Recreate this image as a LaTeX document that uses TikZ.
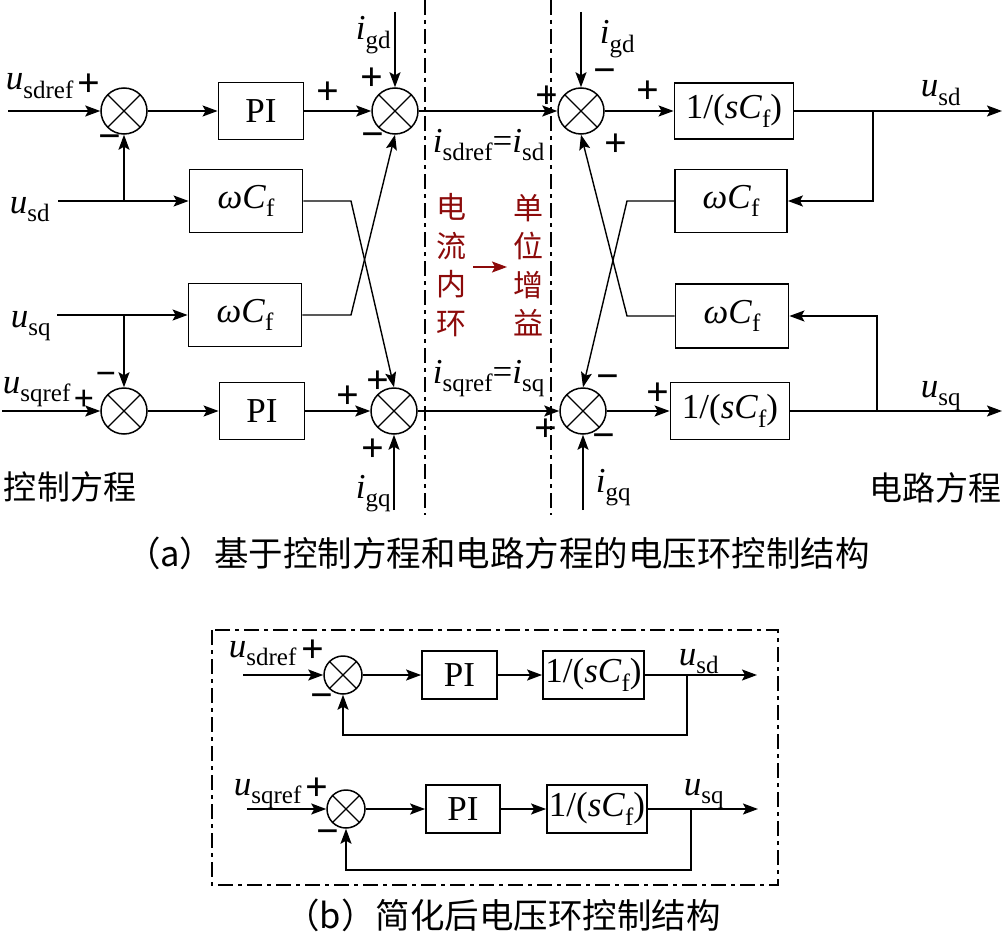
\documentclass[tikz,border=0pt]{standalone}
\usepackage{fontspec}
\setmainfont{Liberation Serif}
\newfontfamily\cjk{Noto Sans CJK SC}
\usetikzlibrary{arrows.meta,calc}
\newcommand\vs[2]{\textit{#1}\raisebox{-0.25em}{\fontsize{25}{25}\selectfont #2}}
\definecolor{dred}{RGB}{140,10,10}
\begin{document}
\begin{tikzpicture}[x=1pt,y=-1pt,line width=1.8pt,
  arr/.style={-{Stealth[length=15pt,width=11pt,inset=3pt]}},
  sumnode/.style={circle,draw,line width=1.5pt,minimum size=46pt,inner sep=0pt,
    path picture={\draw[line width=1.3pt] (path picture bounding box.north west)--(path picture bounding box.south east) (path picture bounding box.north east)--(path picture bounding box.south west);}},
  blk/.style={draw,line width=1.8pt,inner sep=0pt,font=\fontsize{35}{35}\selectfont},
  lbl/.style={inner sep=0pt,font=\fontsize{35}{35}\selectfont},
  sgn/.style={inner sep=0pt,font=\bfseries\fontsize{40}{40}\selectfont},
  ddash/.style={line width=1.5pt,dash pattern=on 15pt off 5pt on 4pt off 5pt},
  cjkl/.style={inner sep=0pt,font=\cjk\fontsize{33}{33}\selectfont},
  diag/.style={line width=1.4pt},
]
\useasboundingbox (0,0) rectangle (1003,939);

% ---------- part (a) ----------
\node[sumnode] (s1) at (124,111) {};
\node[blk,minimum width=85pt,minimum height=57pt] (pi1) at (261,111) {PI};
\node[sumnode] (s2) at (395,111) {};
\node[blk,minimum width=113pt,minimum height=63pt] (wc1) at (246,201) {\vs{ωC}{f}};
\node[blk,minimum width=113pt,minimum height=63pt] (wc2) at (245,315) {\vs{ωC}{f}};
\node[sumnode] (s3) at (124,411) {};
\node[blk,minimum width=85pt,minimum height=57pt] (pi2) at (262,411) {PI};
\node[sumnode] (s4) at (394,411) {};

\node[sumnode] (s5) at (581,111) {};
\node[blk,minimum width=119pt,minimum height=56pt] (g1) at (734,111) {1/(\vs{sC}{f})};
\node[blk,minimum width=112pt,minimum height=63pt] (wc3) at (731,201) {\vs{ωC}{f}};
\node[blk,minimum width=113pt,minimum height=64pt] (wc4) at (732,316) {\vs{ωC}{f}};
\node[sumnode] (s6) at (583,411) {};
\node[blk,minimum width=119pt,minimum height=57pt] (g2) at (730,411) {1/(\vs{sC}{f})};

\coordinate (in1) at (8,111);
\coordinate (usd) at (58,201);
\coordinate (usq) at (57,315);
\coordinate (in3) at (2,411);
\coordinate (igd1) at (395,12);
\coordinate (igq1) at (394,510);
\coordinate (igd2) at (581,12);
\coordinate (igq2) at (583,510);
\coordinate (o1) at (1002,111);
\coordinate (o2) at (1002,411);
\coordinate (k1) at (351,201);
\coordinate (k2) at (351,315);
\coordinate (k3) at (627,201);
\coordinate (k4) at (627,316);
\coordinate (b1) at (873,111);
\coordinate (b2) at (877,411);

\draw[arr] (in1) -- (s1);
\draw[arr] (s1) -- (pi1);
\draw[arr] (pi1) -- (s2);
\draw[arr] (igd1) -- (s2);
\draw[arr] (usd) -- (wc1);
\draw[arr] (usd -| s1) -- (s1);
\draw[arr,diag] (wc1.east) -- (k1) -- (s4.north);
\draw[arr,diag] (wc2.east) -- (k2) -- (s2.south);
\draw[arr] (usq) -- (wc2);
\draw[arr] (usq -| s3) -- (s3);
\draw[arr] (in3) -- (s3);
\draw[arr] (s3) -- (pi2);
\draw[arr] (pi2) -- (s4);
\draw[arr] (igq1) -- (s4);
\draw[arr] (s2) -- (s5);
\draw[arr] (s4) -- (s6);
\draw[arr] (igd2) -- (s5);
\draw[arr] (igq2) -- (s6);
\draw[arr] (s5) -- (g1);
\draw[arr] (g1) -- (o1);
\draw[arr] (b1) -- (b1 |- wc3) -- (wc3);
\draw[arr,diag] (wc3.west) -- (k3) -- (s6.north);
\draw[arr,diag] (wc4.west) -- (k4) -- (s5.south);
\draw[arr] (s6) -- (g2);
\draw[arr] (g2) -- (o2);
\draw[arr] (b2) -- (b2 |- wc4) -- (wc4);

% dash-dot separators
\coordinate (d1t) at (425,0);
\coordinate (d1b) at (425,515);
\coordinate (d2t) at (551,0);
\coordinate (d2b) at (551,515);
\draw[ddash] (d1t) -- (d1b);
\draw[ddash] (d2t) -- (d2b);

% labels left
\node[lbl,anchor=base west] (lusdref) at (5,90) {\vs{u}{sdref}};
\node[sgn] (p1) at (89,85) {+};
\node[sgn] (m1) at (110,142) {−};
\node[lbl,anchor=base west] (lusd) at (9,213) {\vs{u}{sd}};
\node[sgn] (p2) at (328,93) {+};
\node[sgn] (p3) at (372,79) {+};
\node[sgn] (m2) at (373,140) {−};
\node[lbl,anchor=base west] (ligd1) at (355,40) {\vs{i}{gd}};
\node[lbl,anchor=base west] (lusq) at (10,327) {\vs{u}{sq}};
\node[lbl,anchor=base west] (lusqref) at (2,393) {\vs{u}{sqref}};
\node[sgn,font=\bfseries\fontsize{36}{36}\selectfont] (p4) at (84,400) {+};
\node[sgn,font=\bfseries\fontsize{36}{36}\selectfont] (m3) at (106,379) {−};
\node[sgn] (p5) at (348,397) {+};
\node[sgn] (p6) at (378,382) {+};
\node[sgn] (p7) at (373,450) {+};
\node[lbl,anchor=base west] (ligq1) at (355,498) {\vs{i}{gq}};
\node[cjkl] (kz) at (70,487) {控制方程};

% labels right
\node[sgn] (p8) at (547,97) {+};
\node[sgn] (m4) at (605,76) {−};
\node[sgn] (p9) at (648,92) {+};
\node[sgn] (p10) at (616,145) {+};
\node[lbl,anchor=base west] (ligd2) at (599,44) {\vs{i}{gd}};
\node[lbl,anchor=base west] (lusd2) at (920,97) {\vs{u}{sd}};
\node[lbl,anchor=base west] (lusq2) at (920,397) {\vs{u}{sq}};
\node[sgn] (m5) at (608,382) {−};
\node[sgn] (p11) at (658,394) {+};
\node[sgn] (p12) at (546,430) {+};
\node[sgn] (m6) at (604,441) {−};
\node[lbl,anchor=base west] (ligq2) at (595,492) {\vs{i}{gq}};
\node[cjkl] (dl) at (935,488) {电路方程};

% middle
\node[lbl,anchor=base west] (eq1) at (432,152) {\vs{i}{sdref}=\vs{i}{sd}};
\node[lbl,anchor=base west] (eq2) at (432,383) {\vs{i}{sqref}=\vs{i}{sq}};
\node[cjkl,text=dred,align=center,font=\cjk\fontsize{30}{38.5}\selectfont] (rl) at (451,265) {电\\流\\内\\环};
\node[cjkl,text=dred,align=center,font=\cjk\fontsize{30}{38.5}\selectfont] (rr) at (528,265) {单\\位\\增\\益};
\coordinate (ra1) at (473,267);
\coordinate (ra2) at (507,267);
\draw[arr,dred,line width=1.8pt] (ra1) -- (ra2);

\node[cjkl,font=\cjk\fontsize{34.5}{34.5}\selectfont] (capa) at (498,553) {（a）基于控制方程和电路方程的电压环控制结构};

% ---------- part (b) ----------
\coordinate (r1) at (212,630);
\coordinate (r2) at (778,885);
\draw[ddash] (r1) rectangle (r2);

\node[sumnode,minimum size=38pt] (c1) at (343,675) {};
\node[blk,minimum width=75pt,minimum height=48pt] (cp1) at (459.5,675) {PI};
\node[blk,minimum width=101pt,minimum height=48pt] (cg1) at (593.5,675) {1/(\vs{sC}{f})};
\coordinate (ci1) at (243,675);
\coordinate (co1) at (757,675);
\coordinate (cb1) at (687,675);
\coordinate (cf1) at (687,735);
\draw[arr] (ci1) -- (c1);
\draw[arr] (c1) -- (cp1);
\draw[arr] (cp1) -- (cg1);
\draw[arr] (cg1) -- (co1);
\draw[arr] (cb1) -- (cf1) -- (cf1 -| c1) -- (c1);

\node[sumnode,minimum size=38pt] (c2) at (346,809) {};
\node[blk,minimum width=74pt,minimum height=48pt] (cp2) at (463,809) {PI};
\node[blk,minimum width=100pt,minimum height=48pt] (cg2) at (597,809) {1/(\vs{sC}{f})};
\coordinate (ci2) at (247,809);
\coordinate (co2) at (758,809);
\coordinate (cb2) at (691,809);
\coordinate (cf2) at (691,870);
\draw[arr] (ci2) -- (c2);
\draw[arr] (c2) -- (cp2);
\draw[arr] (cp2) -- (cg2);
\draw[arr] (cg2) -- (co2);
\draw[arr] (cb2) -- (cf2) -- (cf2 -| c2) -- (c2);

\node[lbl,anchor=base west] (bl1) at (228,657) {\vs{u}{sdref}};
\node[sgn] (bp1) at (313,651) {+};
\node[sgn] (bm1) at (322,701) {−};
\node[lbl,anchor=base west] (bl2) at (678,665) {\vs{u}{sd}};
\node[lbl,anchor=base west] (bl3) at (233,795) {\vs{u}{sqref}};
\node[sgn] (bp2) at (317,789) {+};
\node[sgn] (bm2) at (328,837) {−};
\node[lbl,anchor=base west] (bl4) at (683,795) {\vs{u}{sq}};

\node[cjkl,font=\cjk\fontsize{34.5}{34.5}\selectfont] (capb) at (503,915) {（b）简化后电压环控制结构};
\end{tikzpicture}
\end{document}
